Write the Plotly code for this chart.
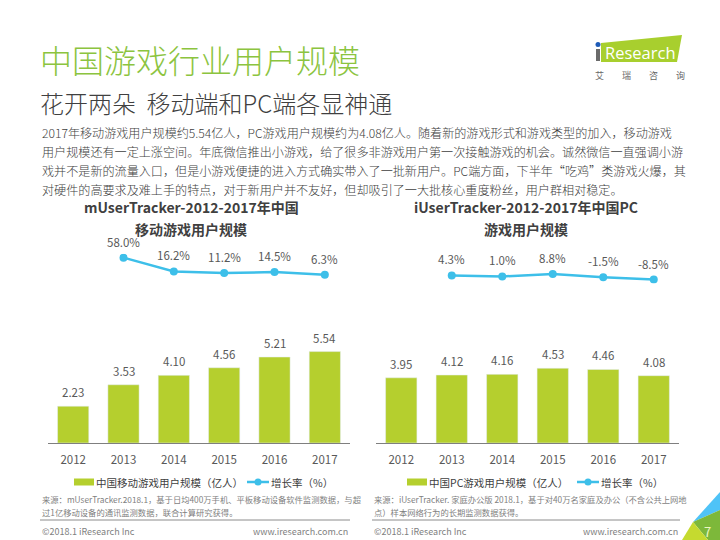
import plotly.graph_objects as go

W, H = 720, 540


def px(x):
    return x / W


def py(y):
    return 1 - y / H


# ---------------- data ----------------
years = ["2012", "2013", "2014", "2015", "2016", "2017"]
mobile_users = [2.23, 3.53, 4.10, 4.56, 5.21, 5.54]
pc_users = [3.95, 4.12, 4.16, 4.53, 4.46, 4.08]
growth_years = ["2013", "2014", "2015", "2016", "2017"]
mobile_growth = [58.0, 16.2, 11.2, 14.5, 6.3]
pc_growth = [4.3, 1.0, 8.8, -1.5, -8.5]

title = "中国游戏行业用户规模"
subtitle = "花开两朵  移动端和PC端各显神通"
intro_lines = [
    "2017年移动游戏用户规模约5.54亿人，PC游戏用户规模约为4.08亿人。随着新的游戏形式和游戏类型的加入，移动游戏",
    "用户规模还有一定上涨空间。年底微信推出小游戏，给了很多非游戏用户第一次接触游戏的机会。诚然微信一直强调小游",
    "戏并不是新的流量入口，但是小游戏便捷的进入方式确实带入了一批新用户。PC端方面，下半年“吃鸡”类游戏火爆，其",
    "对硬件的高要求及难上手的特点，对于新用户并不友好，但却吸引了一大批核心重度粉丝，用户群相对稳定。",
]
left_title_lines = ["mUserTracker-2012-2017年中国", "移动游戏用户规模"]
right_title_lines = ["iUserTracker-2012-2017年中国PC", "游戏用户规模"]
left_legend = ["中国移动游戏用户规模（亿人）", "增长率（%）"]
right_legend = ["中国PC游戏用户规模（亿人）", "增长率（%）"]
left_source = [
    "来源：mUserTracker.2018.1，基于日均400万手机、平板移动设备软件监测数据，与超",
    "过1亿移动设备的通讯监测数据，联合计算研究获得。",
]
right_source = [
    "来源：iUserTracker. 家庭办公版 2018.1，基于对40万名家庭及办公（不含公共上网地",
    "点）样本网络行为的长期监测数据获得。",
]
footer_left = "©2018.1 iResearch Inc"
footer_right = "www.iresearch.com.cn"
page_no = "7"
logo_cn = ["艾", "瑞", "咨", "询"]

# ---------------- style ----------------
FONT = "Noto Sans CJK SC"
BAR = "#B5CF2E"
LINE = "#3DBFE9"
GRAY = "#595959"
DARK = "#404040"
GREEN_T = "#8CC43F"

BASE = 443.0
PXU = 16.5
BAR_MAX = 6.6
L_ZERO = 276.8
L_PX = 0.33
L_RANGE = [-20, 70]

fig = go.Figure()

fig.add_trace(go.Bar(x=years, y=mobile_users, marker_color=BAR, xaxis="x", yaxis="y",
                     hoverinfo="skip", showlegend=False))
fig.add_trace(go.Bar(x=years, y=pc_users, marker_color=BAR, xaxis="x2", yaxis="y2",
                     hoverinfo="skip", showlegend=False))
fig.add_trace(go.Scatter(x=growth_years, y=mobile_growth, mode="lines+markers",
                         line=dict(color=LINE, width=2.5), marker=dict(size=8, color=LINE),
                         xaxis="x3", yaxis="y3", showlegend=False, hoverinfo="skip"))
fig.add_trace(go.Scatter(x=growth_years, y=pc_growth, mode="lines+markers",
                         line=dict(color=LINE, width=2.5), marker=dict(size=8, color=LINE),
                         xaxis="x4", yaxis="y4", showlegend=False, hoverinfo="skip"))

bar_ydom = [py(BASE), py(BASE - PXU * BAR_MAX)]
line_ydom = [py(L_ZERO - L_PX * L_RANGE[0]), py(L_ZERO - L_PX * L_RANGE[1])]
left_dom = [px(48), px(350)]
right_dom = [px(376), px(679)]

xbar = dict(type="category", categoryorder="array", categoryarray=years, range=[-0.5, 5.5],
            showline=True, linecolor="#7F7F7F", linewidth=1, ticks="", showgrid=False,
            zeroline=False, tickfont=dict(family=FONT, size=11.5, color=GRAY),
            ticklabelstandoff=6, fixedrange=True)
xline = dict(type="category", categoryorder="array", categoryarray=years, range=[-0.5, 5.5],
             visible=False, fixedrange=True)

fig.update_layout(
    width=W, height=H, margin=dict(l=0, r=0, t=0, b=0),
    paper_bgcolor="white", plot_bgcolor="rgba(0,0,0,0)",
    bargap=0.38,
    font=dict(family=FONT, color=DARK),
    xaxis=dict(domain=left_dom, anchor="y", **xbar),
    yaxis=dict(domain=bar_ydom, range=[0, BAR_MAX], visible=False, fixedrange=True),
    xaxis2=dict(domain=right_dom, anchor="y2", **xbar),
    yaxis2=dict(domain=bar_ydom, range=[0, BAR_MAX], visible=False, fixedrange=True),
    xaxis3=dict(domain=left_dom, anchor="y3", **xline),
    yaxis3=dict(domain=line_ydom, range=L_RANGE, visible=False, fixedrange=True),
    xaxis4=dict(domain=right_dom, anchor="y4", **xline),
    yaxis4=dict(domain=line_ydom, range=L_RANGE, visible=False, fixedrange=True),
)

ann = []
shapes = []

# value labels on bars (category index positions)
for xs, ys, xr, yr in [(years, mobile_users, "x", "y"), (years, pc_users, "x2", "y2")]:
    for xv, yv in zip(xs, ys):
        ann.append(dict(x=years.index(xv), y=yv, xref=xr, yref=yr, text=f"{yv:.2f}", showarrow=False,
                        yanchor="middle", yshift=14, font=dict(size=11.5, color=GRAY)))
# growth labels
for xs, ys, xr, yr in [(growth_years, mobile_growth, "x3", "y3"), (growth_years, pc_growth, "x4", "y4")]:
    for xv, yv in zip(xs, ys):
        ann.append(dict(x=years.index(xv), y=yv, xref=xr, yref=yr, text=f"{yv:.1f}%", showarrow=False,
                        yanchor="middle", yshift=16, font=dict(size=11.5, color=GRAY)))


def txt(x, y, text, size, color=DARK, xanchor="left", bold=False, family=FONT, weight=None):
    t = f"<b>{text}</b>" if bold else text
    f = dict(size=size, color=color, family=family)
    if weight:
        f["weight"] = weight
    ann.append(dict(x=px(x), y=py(y), xref="paper", yref="paper", text=t, showarrow=False,
                    xanchor=xanchor, yanchor="middle", font=f))


# headings
txt(38, 59, title, 32, GREEN_T, weight=300)
txt(38, 102, subtitle, 24, DARK, weight=300)
for i, line in enumerate(intro_lines):
    txt(40, 133 + i * 18.8, line, 12.1, DARK, weight=300)

# chart titles
for i, line in enumerate(left_title_lines):
    txt(191, 207 + i * 22, line, 14, DARK, "center", True)
for i, line in enumerate(right_title_lines):
    txt(526, 207 + i * 22, line, 14, DARK, "center", True)


# legends
def legend(x0, labels, lx):
    shapes.append(dict(type="rect", xref="paper", yref="paper", x0=px(x0), x1=px(x0 + 20),
                       y0=py(485.5), y1=py(478.5), fillcolor=BAR, line_width=0))
    txt(x0 + 20, 482, labels[0], 10.5, DARK)
    shapes.append(dict(type="line", xref="paper", yref="paper", x0=px(lx), x1=px(lx + 22),
                       y0=py(482), y1=py(482), line=dict(color=LINE, width=2.5)))
    shapes.append(dict(type="circle", xref="paper", yref="paper", x0=px(lx + 7.5), x1=px(lx + 14.5),
                       y0=py(485.5), y1=py(478.5), fillcolor=LINE, line_width=0))
    txt(lx + 22, 482, labels[1], 10.5, DARK)


legend(74, left_legend, 247)
legend(407, right_legend, 577)

# sources
for i, line in enumerate(left_source):
    txt(40, 499 + i * 13, line, 8.3, "#7F7F7F")
for i, line in enumerate(right_source):
    txt(372, 499 + i * 13, line, 8.3, "#7F7F7F")

# footer rules & text
for x0, x1 in [(40, 350), (372, 680)]:
    shapes.append(dict(type="line", xref="paper", yref="paper", x0=px(x0), x1=px(x1),
                       y0=py(520), y1=py(520), line=dict(color="#8C8C8C", width=1)))
txt(40, 531, footer_left, 9, "#7F7F7F")
txt(350, 531, footer_right, 9, "#7F7F7F", "right")
txt(372, 531, footer_left, 9, "#7F7F7F")
txt(680, 531, footer_right, 9, "#7F7F7F", "right")


def poly(points, color):
    d = "M " + " L ".join(f"{px(a)},{py(b)}" for a, b in points) + " Z"
    shapes.append(dict(type="path", xref="paper", yref="paper", path=d, fillcolor=color, line_width=0))


# corner decoration
poly([(693, 522), (720, 492), (720, 510)], "#4FC3F7")
poly([(693, 522), (720, 510), (720, 540), (708, 540)], "#7DB83A")
poly([(682, 540), (693, 522), (708, 540)], "#C5DA2F")
txt(707, 531, page_no, 13, "#EEF6C0", "center")

# logo
poly([(601, 43), (682, 35), (677, 62), (601, 62)], "#A8CF2E")
shapes.append(dict(type="rect", xref="paper", yref="paper", x0=px(596), x1=px(600),
                   y0=py(61), y1=py(49), fillcolor="#6B6B6B", line_width=0))
shapes.append(dict(type="circle", xref="paper", yref="paper", x0=px(595.5), x1=px(600.5),
                   y0=py(47), y1=py(42), fillcolor="#1E5BB8", line_width=0))
ann.append(dict(x=px(640), y=py(53), xref="paper", yref="paper", showarrow=False, xanchor="center",
                yanchor="middle", text="Research",
                font=dict(size=16.5, color="white", family="Open Sans")))
for i, ch in enumerate(logo_cn):
    txt(599 + i * 27, 76, ch, 9, "#666666", "center")

fig.update_layout(annotations=ann, shapes=shapes)
fig.write_html("out.html", config={"displayModeBar": False},
               post_script="document.body.style.margin='0';document.body.style.overflow='hidden';")
